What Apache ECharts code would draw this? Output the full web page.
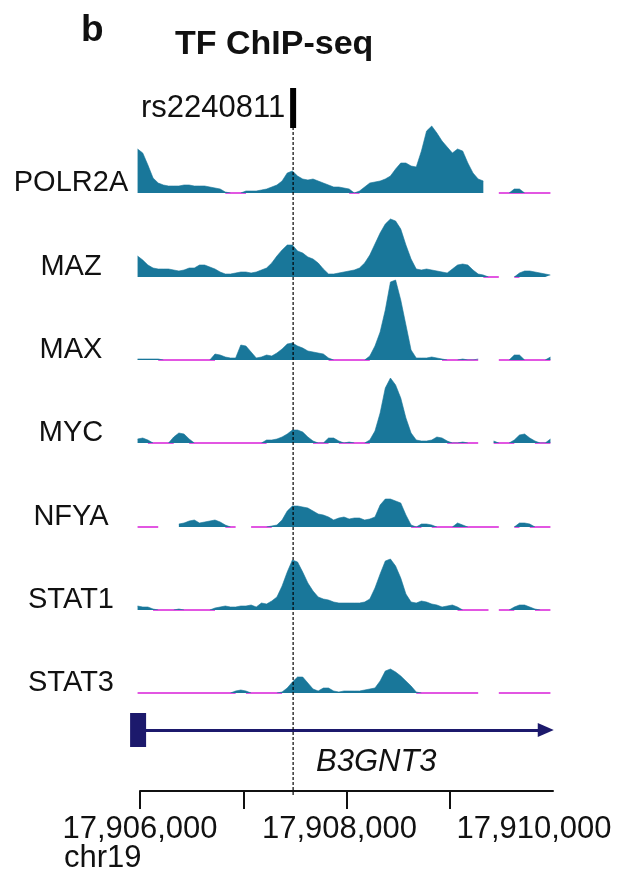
<!DOCTYPE html>
<html><head><meta charset="utf-8">
<script src="https://cdn.jsdelivr.net/npm/echarts@6/dist/echarts.min.js"></script>
<style>html,body{margin:0;padding:0;background:#fff}#c{width:623px;height:874px}</style>
</head><body><div id="c"></div>
<script>
// ---------------- data ----------------
const PANEL_LETTER = 'b';
const TITLE = 'TF ChIP-seq';
const TRACK_NAMES = ['POLR2A', 'MAZ', 'MAX', 'MYC', 'NFYA', 'STAT1', 'STAT3'];
// coverage bins: centre of first bin and bin width (bp); null = no data (gap), 0 = zero coverage
const BIN_START = 17905975;
const BIN_SIZE = 50;
const POLR2A = [44,40,28,15,10,8,7,7,7,8, 8,7,7,7,6,5,4,1,0,0, 0,2,2,2,3,4,6,8,12,20, 22,17,14,13,14,12,10,8,6,6,
  5,4,0,2,6,10,11,12,14,17, 24,30,30,27,26,42,62,67,60,52, 46,40,44,42,30,20,14,12,null,null, 0,0,0,4,4,0,0,0,0,0, 0];
const MAZ = [21,17,12,9,8,8,8,7,6,7, 9,9,12,12,10,8,5,3,3,4, 5,5,4,5,7,9,14,21,27,32, 32,26,24,20,18,14,8,3,3,4,
  5,6,7,9,14,22,33,44,53,58, 56,48,32,18,8,7,8,7,6,5, 4,8,12,13,12,7,3,2,0,0, 0,null,null,0,4,6,6,5,4,3, 2];
const MAX = [1,1,1,1,1,0,0,0,0,0, 0,0,0,0,0,6,5,3,2,2, 15,14,8,2,3,5,4,7,11,16, 17,14,12,9,8,7,6,2,0,0,
  0,0,0,0,0,4,14,28,50,78, 80,60,35,10,2,2,2,3,2,1, 0,0,0,1,0,0,1,null,null,null, 0,0,0,5,5,0,0,0,0,0, 3];
const MYC = [4,5,3,0,0,0,0,6,10,9, 4,0,0,0,0,0,0,0,0,0, 0,0,0,0,0,3,3,4,6,9, 13,13,11,6,2,0,0,5,5,2,
  0,1,0,0,0,3,12,30,55,65, 58,45,25,10,3,2,2,3,6,5, 2,0,0,1,0,0,0,null,null,2, 0,0,0,3,8,9,5,2,0,0, 4];
const NFYA = [0,0,0,0,0,null,null,null,3,4, 6,7,4,5,6,7,5,2,0,0, null,null,0,0,0,0,1,2,7,16, 21,21,20,19,16,13,12,10,7,9,
  10,8,9,9,7,8,10,22,28,28, 26,24,12,2,0,3,3,2,0,0, 0,0,4,2,0,0,0,0,0,0, 0,null,null,0,4,4,3,0,0,0, 0];
const STAT1 = [4,3,3,1,0,0,0,0,1,0, 0,0,0,0,0,2,3,4,3,3, 4,4,5,3,7,6,9,13,24,38, 50,48,38,27,19,13,11,10,8,7,
  7,7,7,7,8,11,22,36,49,51, 44,32,16,8,7,9,8,6,5,3, 4,5,3,0,0,0,0,0,0,null, 0,0,0,3,5,5,3,1,0,0, 0];
const STAT3 = [0,0,0,0,0,0,0,0,0,0, 0,0,0,0,0,0,0,0,0,2, 3,2,0,0,0,0,0,0,1,5, 11,16,16,10,4,2,5,5,2,1,
  2,2,2,2,3,4,5,12,22,24, 21,17,12,7,1,0,0,0,0,0, 0,0,0,0,0,0,0,null,0,null, 0,0,0,0,0,0,0,0,0,0, 0];
const TRACK_VALUES = [POLR2A, MAZ, MAX, MYC, NFYA, STAT1, STAT3];

const SNP_NAME = 'rs2240811';
const SNP_POS = 17907482;
const GENE_NAME = 'B3GNT3';
const GENE_START = 17905980;
const GENE_END = 17909930;
const CHROM = 'chr19';
const VIEW_MIN = 17905950, VIEW_MAX = 17910000;
const AXIS_MIN = 17906000, AXIS_MAX = 17910000;
const AXIS_TICKS = [17906000, 17907000, 17908000, 17909000];
const AXIS_LABELS = [17906000, 17908000, 17910000];

// ---------------- layout / style ----------------
const FONT = '"Liberation Sans", Arial, sans-serif';
const TEAL = '#19779a';
const MAGENTA = '#e256e2';
const NAVY = '#1c196c';
const TEXT = '#111';
const PLOT_LEFT = 135, PLOT_WIDTH = 418;
const BASELINES = [193, 277, 360, 443, 527, 610, 693];
const TRACK_H = 90;
const LABEL_CX = 71;
// horizontal nudges (px, leftwards) of the coordinate labels, as in the figure
const LABEL_SHIFT = {17906000: 0, 17908000: 7, 17910000: 19};

const fmt = v => String(v).replace(/\B(?=(\d{3})+(?!\d))/g, ',');
const pos = i => BIN_START + i * BIN_SIZE;

const grids = [], xAxes = [], yAxes = [], series = [], graphics = [];

TRACK_VALUES.forEach((vals, k) => {
  grids.push({left: PLOT_LEFT, width: PLOT_WIDTH, top: BASELINES[k] - TRACK_H, height: TRACK_H});
  xAxes.push({gridIndex: k, type: 'value', min: VIEW_MIN, max: VIEW_MAX, show: false});
  yAxes.push({gridIndex: k, type: 'value', min: 0, max: TRACK_H, show: false});
  const mag = vals.map((v, i) => {
    const isZero = v === 0;
    const adj = v !== null && (vals[i - 1] === 0 || vals[i + 1] === 0);
    return [pos(i), (isZero || adj) ? 0 : null];
  });
  const teal = vals.map((v, i) => {
    if (v !== null && v > 0) return [pos(i), v];
    if (v === 0 && ((vals[i - 1] || 0) > 0 || (vals[i + 1] || 0) > 0)) return [pos(i), 0];
    return [pos(i), null];
  });
  series.push({
    type: 'line', xAxisIndex: k, yAxisIndex: k, data: mag, showSymbol: false, symbol: 'none',
    connectNulls: false, silent: true, animation: false, z: 1,
    lineStyle: {color: MAGENTA, width: 2}
  });
  series.push({
    type: 'line', xAxisIndex: k, yAxisIndex: k, data: teal, showSymbol: false, symbol: 'none',
    connectNulls: false, silent: true, animation: false, z: 2,
    lineStyle: {color: TEAL, width: 0.6}, areaStyle: {color: TEAL, opacity: 1}
  });
  graphics.push({
    type: 'text', x: LABEL_CX, y: BASELINES[k] - 10,
    style: {text: TRACK_NAMES[k], font: '29px ' + FONT, fill: TEXT, align: 'center', verticalAlign: 'middle'}
  });
});

// SNP grid (index 7)
const SNP_TOP = 88, SNP_BOTTOM = 795, SNP_BAR = 40;
grids.push({left: PLOT_LEFT, width: PLOT_WIDTH, top: SNP_TOP, height: SNP_BOTTOM - SNP_TOP});
xAxes.push({gridIndex: 7, type: 'value', min: VIEW_MIN, max: VIEW_MAX, show: false});
yAxes.push({gridIndex: 7, type: 'value', min: 0, max: SNP_BOTTOM - SNP_TOP, show: false});
series.push({
  type: 'line', xAxisIndex: 7, yAxisIndex: 7, data: [[SNP_POS, 0], [SNP_POS, SNP_BOTTOM - SNP_TOP - SNP_BAR]],
  symbol: 'none', silent: true, animation: false, z: 20,
  lineStyle: {color: '#000', width: 1.2, type: [3, 2]}
});
series.push({
  type: 'scatter', xAxisIndex: 7, yAxisIndex: 7, data: [[SNP_POS, SNP_BOTTOM - SNP_TOP]],
  symbol: 'rect', symbolSize: [6, SNP_BAR], symbolOffset: [0, SNP_BAR / 2], clip: false, silent: true,
  animation: false, z: 21, itemStyle: {color: '#000', opacity: 1},
  label: {show: true, position: 'left', distance: 5, formatter: SNP_NAME, fontSize: 31, fontFamily: FONT, color: TEXT}
});

// gene grid (index 8)
grids.push({left: PLOT_LEFT, width: PLOT_WIDTH, top: 712, height: 36});
xAxes.push({gridIndex: 8, type: 'value', min: VIEW_MIN, max: VIEW_MAX, show: false});
yAxes.push({gridIndex: 8, type: 'value', min: -1, max: 1, show: false});
series.push({
  type: 'scatter', xAxisIndex: 8, yAxisIndex: 8, data: [[GENE_START, 0]], symbol: 'rect', symbolSize: [16, 34],
  clip: false, silent: true, animation: false, z: 6, itemStyle: {color: NAVY, opacity: 1},
  markLine: {
    silent: true, animation: false, symbol: ['none', 'triangle'], symbolSize: [14, 16],
    label: {show: false}, lineStyle: {color: NAVY, width: 3, type: 'solid', opacity: 1},
    data: [[{coord: [GENE_START, 0]}, {coord: [GENE_END, 0]}]]
  }
});

// coordinate axis grid (index 9)
grids.push({left: 140, width: 413, top: 781, height: 10});
xAxes.push({
  gridIndex: 9, type: 'value', min: AXIS_MIN, max: AXIS_MAX, position: 'bottom',
  axisLine: {show: true, onZero: false, lineStyle: {color: TEXT, width: 2}},
  axisTick: {show: true, customValues: AXIS_TICKS, length: 18, lineStyle: {color: TEXT, width: 2}},
  axisLabel: {
    customValues: AXIS_LABELS, margin: 23, color: TEXT,
    formatter: v => '{s' + (LABEL_SHIFT[v] || 0) + '|' + fmt(v) + '}',
    rich: Object.fromEntries(Object.values(LABEL_SHIFT).map(s => ['s' + s,
      {fontSize: 31, fontFamily: FONT, color: TEXT, padding: [0, 2 * s, 0, 0]}]))
  },
  splitLine: {show: false}
});
yAxes.push({gridIndex: 9, type: 'value', min: 0, max: 1, show: false});

graphics.push({type: 'text', left: 81, top: 12, style: {text: PANEL_LETTER, font: 'bold 37px ' + FONT, fill: TEXT}});
graphics.push({type: 'text', left: 175, top: 28, style: {text: TITLE, font: 'bold 34px ' + FONT, fill: TEXT}});
graphics.push({type: 'text', left: 316, top: 747, style: {text: GENE_NAME, font: 'italic 31px ' + FONT, fill: TEXT}});
graphics.push({type: 'text', left: 64, top: 843, style: {text: CHROM, font: '31px ' + FONT, fill: TEXT}});

const chart = echarts.init(document.getElementById('c'), null, {renderer: 'canvas'});
chart.setOption({
  animation: false, backgroundColor: '#fff',
  grid: grids, xAxis: xAxes, yAxis: yAxes, series: series, graphic: graphics
});
</script></body></html>
